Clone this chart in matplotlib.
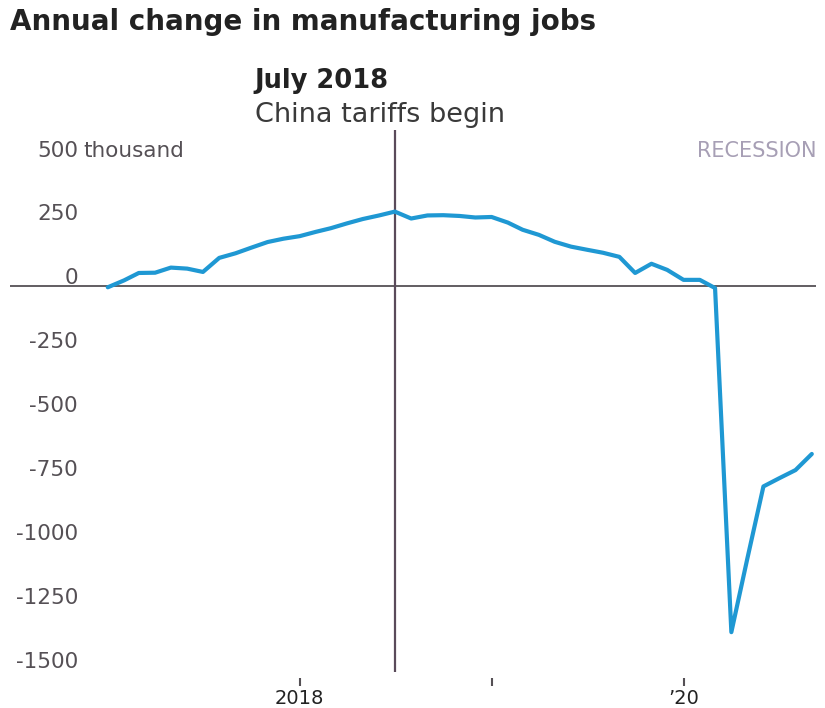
import matplotlib
matplotlib.use("Agg")
import matplotlib.pyplot as plt
import matplotlib.dates as mdates
import pandas as pd

# monthly year-over-year change in manufacturing jobs, thousands (Jan 2017 - Sep 2020)
start_month = "2017-01-01"
changes = [
    -5, 22, 51, 52, 72, 68, 55, 110, 128, 150, 172, 185,
    195, 212, 226, 245, 262, 276, 291, 264, 276, 277, 274, 268,
    270, 248, 220, 200, 173, 154, 142, 130, 114, 51, 87, 63,
    24, 24, -8, -1354, -1070, -784, -752, -720, -657,
]
y_ticks = [250, 0, -250, -500, -750, -1000, -1250, -1500]
x_ticks = ["2018-01-01", "2019-01-01", "2020-01-01"]
x_tick_labels = ["2018", "", "\u201920"]
event_date = "2018-07-01"

BLUE = "#1f98d3"
DARK = "#222222"
GRAY = "#555055"
LAVENDER = "#a79fb5"
plt.rcParams["font.family"] = ["DejaVu Sans"]


def main() -> None:
    dates = pd.date_range(start_month, periods=len(changes), freq="MS")

    fig = plt.figure(figsize=(8.25, 7.08), dpi=100)
    ax = fig.add_axes([0.0121, 0.0508, 0.977, 0.7655])

    ax.axhline(0, color=GRAY, linewidth=1.3, zorder=1)
    ax.axvline(pd.Timestamp(event_date), color="#5a4a5a", linewidth=1.6, zorder=1)
    ax.plot(dates, changes, color=BLUE, linewidth=3.0, solid_joinstyle="round",
            solid_capstyle="round", zorder=3)

    ax.set_xlim(pd.Timestamp("2016-06-29"), pd.Timestamp("2020-09-09"))
    ax.set_ylim(-1510, 610)
    for side in ax.spines.values():
        side.set_visible(False)
    ax.spines["bottom"].set_position(("outward", 4))
    ax.set_yticks([])
    ax.set_xticks(pd.to_datetime(x_ticks))
    ax.set_xticklabels(x_tick_labels, fontsize=14, color=DARK)
    ax.tick_params(axis="x", direction="out", length=6, width=1.5, color=GRAY, pad=2)

    ytr = ax.get_yaxis_transform()
    for v in y_ticks:
        ax.text(0.0844, v + 30, str(v), transform=ytr, ha="right", va="center",
                fontsize=15.5, color=GRAY)
    ax.text(0.0844, 530, "500", transform=ytr, ha="right", va="center",
            fontsize=15.5, color=GRAY)
    ax.text(0.091, 530, "thousand", transform=ytr, ha="left", va="center",
            fontsize=15.5, color=GRAY)
    ax.text(1.0, 530, "RECESSION", transform=ytr, ha="right", va="center",
            fontsize=15, color=LAVENDER)

    fig.text(0.012, 0.958, "Annual change in manufacturing jobs", ha="left", va="baseline",
             fontsize=20, fontweight="bold", color=DARK)
    ev = mdates.date2num(pd.Timestamp(event_date))
    ax.annotate("July 2018", xy=(ev, 1.0), xycoords=("data", "axes fraction"),
                xytext=(-101, 30), textcoords="offset points",
                ha="left", va="baseline", fontsize=18.5, fontweight="bold", color=DARK)
    ax.annotate("China tariffs begin", xy=(ev, 1.0), xycoords=("data", "axes fraction"),
                xytext=(-101, 6), textcoords="offset points",
                ha="left", va="baseline", fontsize=19.5, color="#3a3a3a")

    fig.savefig("out.png", dpi=100)
    plt.close(fig)


if __name__ == "__main__":
    main()
